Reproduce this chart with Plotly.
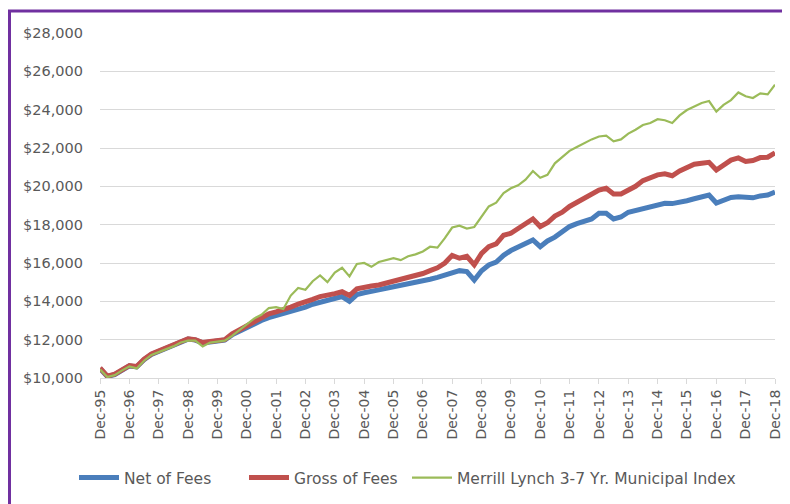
import pandas as pd
import plotly.graph_objects as go

# Quarterly observation dates, Dec-95 .. Dec-18
dates = pd.date_range("1995-12-01", periods=93, freq="3MS")

net_of_fees = [
    10500, 10080, 10180, 10430, 10630, 10580, 10960, 11230, 11400, 11560,
    11700, 11880, 12030, 11980, 11830, 11880, 11930, 11980, 12250, 12450,
    12600, 12850, 13000, 13150, 13250, 13350, 13500, 13600, 13700, 13850,
    13950, 14050, 14150, 14250, 14000, 14350, 14450, 14550, 14600, 14680,
    14750, 14850, 14950, 15000, 15050, 15150, 15250, 15350, 15500, 15600,
    15550, 15110, 15600, 15900, 16050, 16400, 16650, 16850, 17050, 17200,
    16850, 17150, 17350, 17650, 17900, 18050, 18150, 18300, 18600, 18600,
    18300, 18400, 18650, 18750, 18850, 18950, 19050, 19120, 19100, 19150,
    19250, 19350, 19450, 19550, 19130, 19300, 19420, 19450, 19400, 19400,
    19500, 19550, 19700,
]
gross_of_fees = [
    10520, 10100, 10200, 10450, 10650, 10600, 10980, 11250, 11420, 11580,
    11720, 11900, 12050, 12000, 11850, 11900, 11950, 12000, 12300, 12500,
    12700, 12950, 13100, 13350, 13450, 13550, 13700, 13850, 13950, 14100,
    14250, 14300, 14400, 14500, 14300, 14650, 14750, 14800, 14850, 14950,
    15000, 15100, 15250, 15300, 15450, 15600, 15750, 16000, 16400, 16250,
    16350, 15900, 16500, 16850, 17000, 17450, 17550, 17800, 18050, 18300,
    17900, 18100, 18450, 18650, 18950, 19150, 19400, 19600, 19800, 19900,
    19600, 19600, 19800, 20000, 20300, 20450, 20600, 20650, 20550, 20800,
    21000, 21150, 21200, 21250, 20850, 21100, 21370, 21480, 21300, 21350,
    21500, 21520, 21750,
]
merrill_lynch_3_7 = [
    10450, 10050, 10150, 10400, 10600, 10500, 10900, 11200, 11350, 11500,
    11650, 11850, 11950, 11950, 11650, 11850, 11900, 11950, 12200, 12500,
    12800, 13100, 13300, 13650, 13700, 13600, 14300, 14700, 14600, 15050,
    15350, 15000, 15500, 15750, 15300, 15950, 16000, 15800, 16050, 16150,
    16250, 16150, 16350, 16450, 16600, 16850, 16800, 17300, 17850, 17950,
    17800, 17880, 18400, 18950, 19150, 19650, 19900, 20050, 20350, 20800,
    20450, 20600, 21200, 21550, 21850, 22050, 22250, 22450, 22600, 22650,
    22350, 22450, 22750, 22950, 23200, 23300, 23500, 23450, 23300, 23700,
    23980, 24150, 24350, 24450, 23900, 24250, 24500, 24900, 24700, 24610,
    24850, 24800, 25300,
]

series_names = ["Net of Fees", "Gross of Fees", "Merrill Lynch 3-7 Yr. Municipal Index"]
series_values = [net_of_fees, gross_of_fees, merrill_lynch_3_7]
series_colors = ["#4a7ebb", "#c0504d", "#9bbb59"]
series_widths = [5, 5, 2.2]

FONT = "DejaVu Sans"
GRAY = "#595959"

# page has an 8px body margin; work in figure coordinates
OFF = 8
W, H = 790 - OFF, 504 - OFF
ml, mr, mt, mb = 100 - OFF, 15, 33 - OFF, 504 - 378
pw, ph = W - ml - mr, H - mt - mb

def px_x(p):  # page pixel -> paper
    return (p - OFF - ml) / pw

def px_y(p):
    return (H - mb - (p - OFF)) / ph

legend_ids = ["legend", "legend2", "legend3"]
legend_left_px = [74, 244, 407]

fig = go.Figure()
for name, vals, col, w, lid in zip(series_names, series_values, series_colors,
                                    series_widths, legend_ids):
    fig.add_trace(go.Scatter(x=dates, y=vals, mode="lines", name=name,
                             line=dict(color=col, width=w), legend=lid))

purple = "#7030a0"
shapes = [
    dict(type="line", xref="paper", yref="paper",
         x0=px_x(9.5), x1=px_x(9.5), y0=px_y(11), y1=px_y(530),
         line=dict(color=purple, width=3)),
    dict(type="line", xref="paper", yref="paper",
         x0=px_x(8), x1=px_x(820), y0=px_y(11), y1=px_y(11),
         line=dict(color=purple, width=3)),
]

layout_legends = {}
for lid, lx in zip(legend_ids, legend_left_px):
    layout_legends[lid] = dict(
        orientation="h", x=px_x(lx), xanchor="left",
        y=px_y(478), yanchor="middle", bgcolor="rgba(0,0,0,0)",
        font=dict(family=FONT, size=15.5, color=GRAY), itemwidth=40,
    )

fig.update_layout(
    width=W, height=H,
    margin=dict(l=ml, r=mr, t=mt, b=mb, autoexpand=False),
    paper_bgcolor="white", plot_bgcolor="white",
    font=dict(family=FONT, size=14, color=GRAY),
    showlegend=True,
    shapes=shapes,
    **layout_legends,
)
fig.update_xaxes(
    type="date", range=["1995-12-01", "2018-12-01"],
    tick0="1995-12-01", dtick="M12", tickformat="%b-%y", tickangle=-90,
    showgrid=False, showline=True, linecolor="#d9d9d9", linewidth=1,
    ticks="outside", ticklen=5, tickcolor="#d9d9d9",
    tickfont=dict(family=FONT, size=14, color=GRAY),
)
fig.update_yaxes(
    range=[10000, 28000], dtick=2000, tickprefix="$", tickformat=",d",
    showgrid=True, gridcolor="#d9d9d9", gridwidth=1,
    zeroline=False, showline=False, ticks="",
    ticklabelstandoff=16,
    tickfont=dict(family=FONT, size=14.5, color=GRAY),
)

fig.write_html("out.html")
